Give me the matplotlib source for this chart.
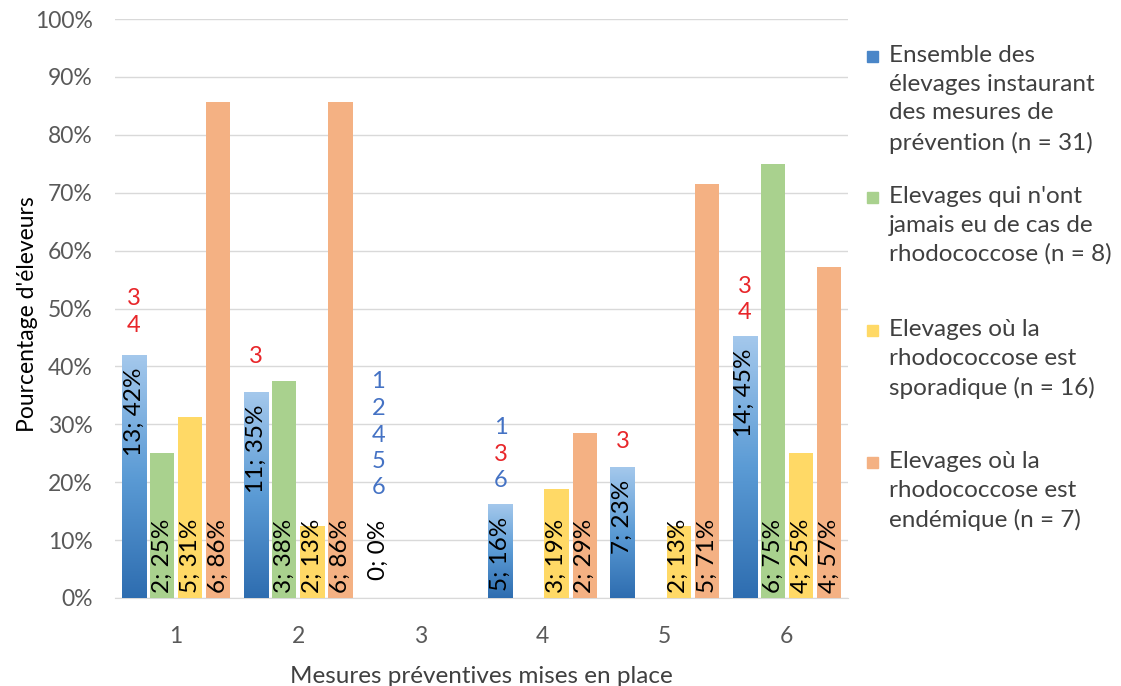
import matplotlib
matplotlib.use("Agg")
import matplotlib.pyplot as plt
import numpy as np
from matplotlib.patches import Rectangle
from matplotlib.colors import LinearSegmentedColormap

plt.rcParams['font.family'] = ['Lato', 'DejaVu Sans']

# Données
categories = ['1', '2', '3', '4', '5', '6']
series_names = [
    "Ensemble des\nélevages instaurant\ndes mesures de\nprévention (n = 31)",
    "Elevages qui n'ont\njamais eu de cas de\nrhodococcose (n = 8)",
    "Elevages où la\nrhodococcose est\nsporadique (n = 16)",
    "Elevages où la\nrhodococcose est\nendémique (n = 7)",
]
n_total = [31, 8, 16, 7]
counts_all = [13, 11, 0, 5, 7, 14]
counts_jamais = [2, 3, 0, 0, 0, 6]
counts_sporadique = [5, 2, 0, 3, 2, 4]
counts_endemique = [6, 6, 0, 2, 5, 4]
# différences significatives notées au-dessus des barres bleues (r = rouge, b = bleu)
notes = [['3', '4'], ['3'], ['1', '2', '4', '5', '6'], ['1', '3', '6'], ['3'], ['3', '4']]
notes_col = [['r', 'r'], ['r'], ['b', 'b', 'b', 'b', 'b'], ['b', 'r', 'b'], ['r'], ['r', 'r']]

counts = [counts_all, counts_jamais, counts_sporadique, counts_endemique]
colors = ['#5B9BD5', '#A9D18E', '#FFD966', '#F4B183']
note_palette = {'r': '#E8262A', 'b': '#4472C4'}
note_offset = [30, 36, 110, 24, 26, 24]  # px au-dessus de la barre

fig = plt.figure(figsize=(11.21, 6.86), dpi=100)
W, H = 1121, 686
ax = fig.add_axes([115 / W, 1 - 598 / H, 733 / W, 579 / H])

x = np.arange(len(categories))
step = 0.23
width = 0.2
blue_cmap = LinearSegmentedColormap.from_list('b', ['#2E6DB0', '#5B9BD5', '#A4C8EC'])

for s, (cnt, n) in enumerate(zip(counts, n_total)):
    vals = np.array(cnt) / n * 100
    xs = x + (s - 1.5) * step
    bars = ax.bar(xs, vals, width, color=colors[s], zorder=3, linewidth=0)
    if s == 0:
        grad = np.linspace(0, 1, 256).reshape(-1, 1)
        for b in bars:
            h = b.get_height()
            if h <= 0:
                continue
            b.set_facecolor('none')
            ax.imshow(grad, cmap=blue_cmap, origin='lower', aspect='auto', zorder=3.5,
                      extent=[b.get_x(), b.get_x() + width, 0, h])
    for i, (c, v) in enumerate(zip(cnt, vals)):
        lab = f"{c}; {int(v + 0.5)}%"
        if s == 0:
            if v > 0:
                ax.annotate(lab, (xs[i], v), xytext=(0, -12), textcoords='offset pixels',
                            rotation=90, ha='center', va='top', fontsize=17.5, zorder=5)
            else:
                ax.annotate(lab, (xs[i], 0), xytext=(0, 18), textcoords='offset pixels',
                            rotation=90, ha='center', va='bottom', fontsize=17.5, zorder=5)
        elif c > 0:
            ax.annotate(lab, (xs[i], 0), xytext=(0, 5), textcoords='offset pixels',
                        rotation=90, ha='center', va='bottom', fontsize=17.5, zorder=5)

# notes au-dessus des barres bleues
blue_vals = np.array(counts_all) / n_total[0] * 100
for i, (lines, cols) in enumerate(zip(notes, notes_col)):
    xi = x[i] - 1.5 * step
    for k, (t, cc) in enumerate(zip(reversed(lines), reversed(cols))):
        ax.annotate(t, (xi, blue_vals[i]), xytext=(0, note_offset[i] + 26.5 * k),
                    textcoords='offset pixels', ha='center', va='center', fontsize=17,
                    color=note_palette[cc], zorder=5)

ax.set_xlim(-0.5, 5.5)
ax.set_ylim(0, 100)
ax.set_yticks(np.arange(0, 101, 10))
ax.set_yticklabels([f"{v}%" for v in range(0, 101, 10)])
ax.set_xticks(x)
ax.set_xticklabels(categories)
ax.tick_params(axis='both', length=0, labelsize=16.5, labelcolor='#595959')
ax.tick_params(axis='y', pad=16)
ax.tick_params(axis='x', pad=20)
ax.yaxis.grid(True, color='#D9D9D9', linewidth=1, zorder=0)
ax.set_axisbelow(True)
for sp in ['top', 'right', 'left']:
    ax.spines[sp].set_visible(False)
ax.spines['bottom'].set_color('#D9D9D9')
ax.set_xlabel('Mesures préventives mises en place', fontsize=17.5, color='#404040', labelpad=14)
ax.set_ylabel("Pourcentage d'éleveurs", fontsize=16.5, color='#000000')
ax.yaxis.set_label_coords(-0.105, 0.49)

# légende
legend_tops = [45, 186, 319, 451]
for s, name in enumerate(series_names):
    ytop = legend_tops[s]
    fig.patches.append(Rectangle((867 / W, 1 - (ytop + 17) / H), 11 / W, 11 / H,
                                 transform=fig.transFigure, color=colors[s] if s else '#4A86C8'))
    fig.text(889 / W, 1 - ytop / H, name, fontsize=17.5, color='#404040',
             va='top', ha='left', linespacing=1.45)

fig.savefig('out.png', dpi=100)
